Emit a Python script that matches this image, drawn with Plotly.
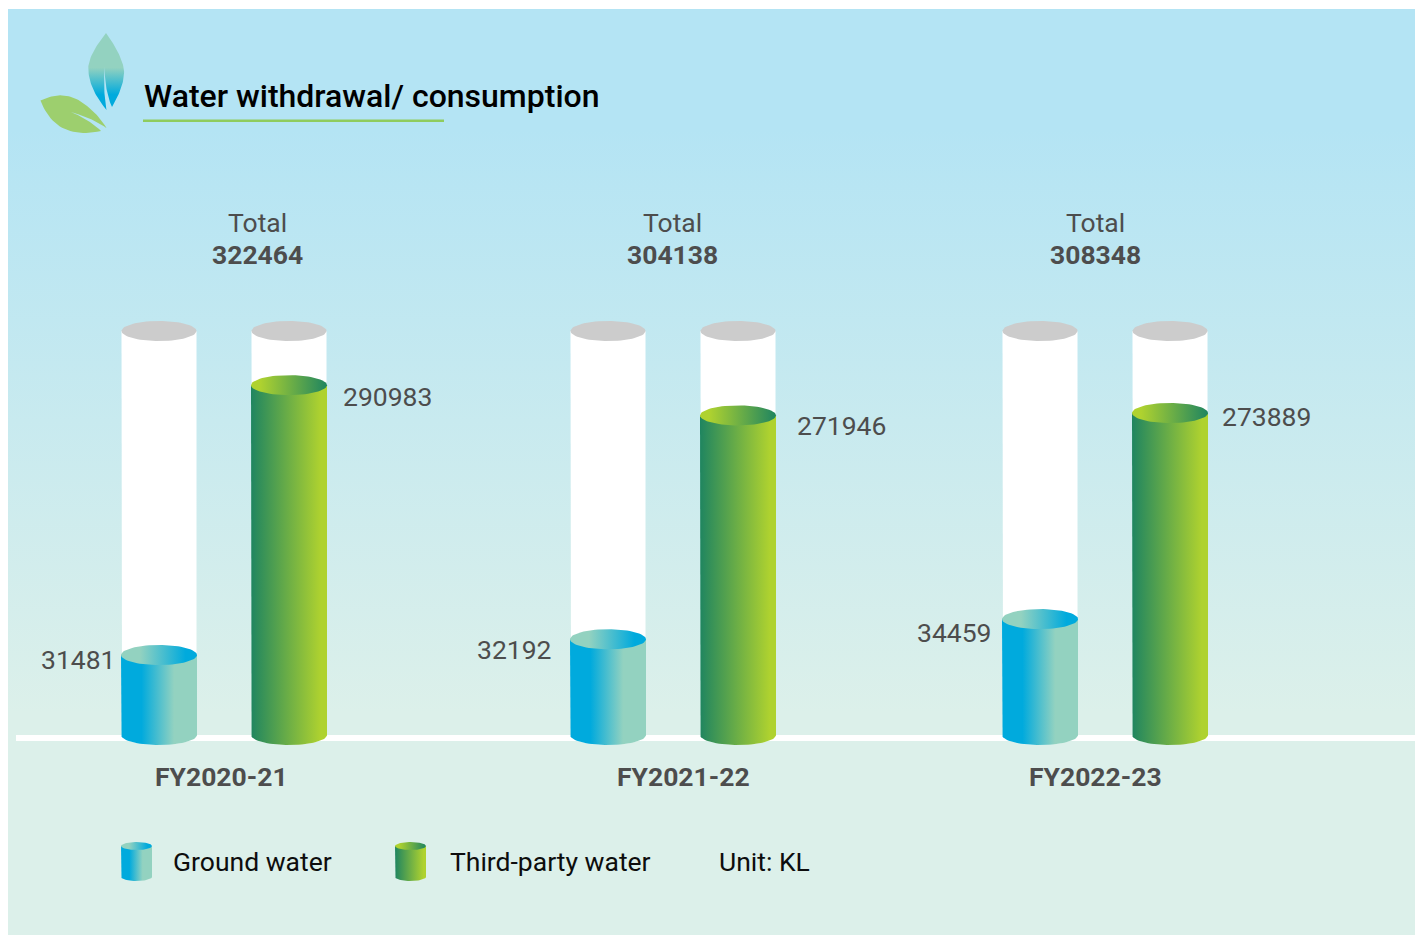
import numpy as np
import plotly.graph_objects as go

# ---- data ----
categories = ["FY2020-21", "FY2021-22", "FY2022-23"]
ground_water = [31481, 32192, 34459]
third_party_water = [290983, 271946, 273889]
totals = [322464, 304138, 308348]
# The picture's fills are not proportional to the printed numbers: these are
# the fill levels of the tanks as drawn, in percent of tank height.
ground_fill_pct = [19.8, 23.7, 28.7]
third_party_fill_pct = [86.6, 79.1, 79.7]
series_names = ["Ground water", "Third-party water"]
title_text = "Water withdrawal/ consumption"
unit_text = "Unit: KL"

# ---- layout constants ----
W, H = 1419, 935
BASE_PX, FULL_PX = 735, 331
PX_PER_PCT = (BASE_PX - FULL_PX) / 100


def Y(px):
    return (BASE_PX - np.asarray(px, dtype=float)) / PX_PER_PCT


BLUE = [[0, "#00aadd"], [0.27, "#00aadd"], [0.70, "#93d2c0"], [1, "#93d2c0"]]
BLUE_CAP = [[0, "#93d2c0"], [0.25, "#93d2c0"], [0.85, "#00aadd"], [1, "#00aadd"]]
GREEN = [[0, "#1f8560"], [0.92, "#afd22f"], [1, "#afd22f"]]
GREEN_CAP = [[0, "#afd22f"], [0.12, "#afd22f"], [1, "#1f8560"]]
INK, GREY = "#0d0d0d", "#4d4d4d"

fig = go.Figure()


def poly(x, y, color=None, grad=None, kind="horizontal", start=None, stop=None):
    t = dict(x=list(x), y=list(y), mode="lines", fill="toself", line=dict(width=0),
             hoverinfo="skip", showlegend=False)
    if grad is not None:
        g = dict(type=kind, colorscale=grad)
        if start is not None:
            g.update(start=start, stop=stop)
        t["fillgradient"] = g
        t["fillcolor"] = "rgba(0,0,0,0)"
    else:
        t["fillcolor"] = color
    fig.add_trace(go.Scatter(**t))


def ellipse(cx, cy_level, a, b_px, color=None, grad=None):
    th = np.linspace(0, 2 * np.pi, 73)
    poly(cx + a * np.cos(th), cy_level + b_px / PX_PER_PCT * np.sin(th), color, grad)


def body(cx, level, a, b_px, grad, base=0.0):
    th = np.linspace(np.pi, 2 * np.pi, 37)
    xs = np.r_[cx - a, cx + a * np.cos(th), cx + a, cx - a]
    ys = np.r_[level, base + b_px / PX_PER_PCT * np.sin(th), level, level]
    poly(xs, ys, None, grad)


def tank(cx, level, body_grad, cap_grad):
    body(cx, level, 38, 10, body_grad)
    ellipse(cx, level, 38, 10, None, cap_grad)


def bez(pts, n=24):
    """Chain of quadratic Bezier segments: p0, c0, p1, c1, p2 ..."""
    out = []
    for i in range(0, len(pts) - 2, 2):
        p0, c, p1 = map(np.array, pts[i:i + 3])
        t = np.linspace(0, 1, n)[:, None]
        out.append((1 - t) ** 2 * p0 + 2 * t * (1 - t) * c + t ** 2 * p1)
    return np.vstack(out)


# background panel with vertical gradient
poly([8, 1415, 1415, 8, 8], Y([9, 9, 935, 935, 9]), None,
     [[0, "#dcf0ea"], [0.24, "#dcf0ea"], [0.87, "#b4e4f4"], [1, "#b4e4f4"]], "vertical")

# base line
poly([16, 1415, 1415, 16, 16], Y([735, 735, 741, 741, 735]), "#ffffff")

# tanks
ground_x = [159, 608, 1040]
third_x = [289, 738, 1170]
for cx in ground_x + third_x:
    th = np.linspace(np.pi, 2 * np.pi, 37)
    poly(np.r_[cx - 37.5, cx + 37.5 * np.cos(th), cx + 37.5, cx - 37.5],
         np.r_[100, 10 / PX_PER_PCT * np.sin(th), 100, 100], "#ffffff")
    ellipse(cx, 100, 37.5, 10, "#cccccc")
for cx, lv in zip(ground_x, ground_fill_pct):
    tank(cx, lv, BLUE, BLUE_CAP)
for cx, lv in zip(third_x, third_party_fill_pct):
    tank(cx, lv, GREEN, GREEN_CAP)

# legend swatches
for cx, bg, cg in [(136.5, BLUE, BLUE_CAP), (410.5, GREEN, GREEN_CAP)]:
    body(cx, float(Y(846)), 15.5, 4, bg, base=float(Y(877)))
    ellipse(cx, float(Y(846)), 15.5, 4, None, cg)

# logo leaves
top_leaf = bez([(106, 33), (86, 58), (88.5, 72), (90, 90), (106.5, 110), (103, 90), (104.5, 67),
                (105, 92), (112, 107), (125, 85), (124, 70), (122, 55), (106, 33)])
poly(top_leaf[:, 0], Y(top_leaf[:, 1]), None,
     [[0, "#00aadd"], [0.2, "#00aadd"], [0.55, "#93d2c0"], [1, "#93d2c0"]], "vertical")
low_leaf = bez([(40.5, 100.5), (62, 90), (80, 101), (96, 111), (106.5, 128), (92, 118), (71, 112),
                (90, 120), (101, 131), (56, 141), (40.5, 100.5)])
poly(low_leaf[:, 0], Y(low_leaf[:, 1]), "#9dcf6e")

# title underline
poly([143, 444, 444, 143, 143], Y([119.5, 119.5, 122, 122, 119.5]), "#8fcc5e")


def text(x, px, s, size=26.5, color=GREY, anchor="center", weight=400):
    fig.add_annotation(x=x, y=float(Y(px)), text=s, xref="x", yref="y", showarrow=False,
                       xanchor=anchor, yanchor="middle",
                       font=dict(family="Roboto", size=size, color=color, weight=weight))


text(141.5, 96, title_text, size=32, color="#000000", anchor="left", weight=500)

total_x = [257, 672, 1095]
cat_x = [221.5, 683, 1095.5]
for tx, cx, tot, cat in zip(total_x, cat_x, totals, categories):
    text(tx, 222, "Total")
    text(tx, 254, str(tot), weight=700)
    text(cx, 776, cat, weight=700)

for x, px, v in zip([117, 553, 993], [659, 649, 632], ground_water):
    text(x, px, str(v), anchor="right")
for x, px, v in zip([341, 795, 1220], [396, 425, 416], third_party_water):
    text(x, px, str(v), anchor="left")

text(171, 861, series_names[0], color=INK, anchor="left")
text(448, 861, series_names[1], color=INK, anchor="left")
text(717, 861, unit_text, color=INK, anchor="left")

fig.update_layout(
    width=W, height=H, margin=dict(l=0, r=0, t=0, b=0),
    paper_bgcolor="#ffffff", plot_bgcolor="rgba(0,0,0,0)", showlegend=False,
    xaxis=dict(range=[0, W], visible=False, fixedrange=True),
    yaxis=dict(range=[float(Y(H)), float(Y(0))], visible=False, fixedrange=True),
)
fig.write_html("out.html", config={"displayModeBar": False},
               post_script="document.body.style.margin='0';document.body.style.overflow='hidden';")
